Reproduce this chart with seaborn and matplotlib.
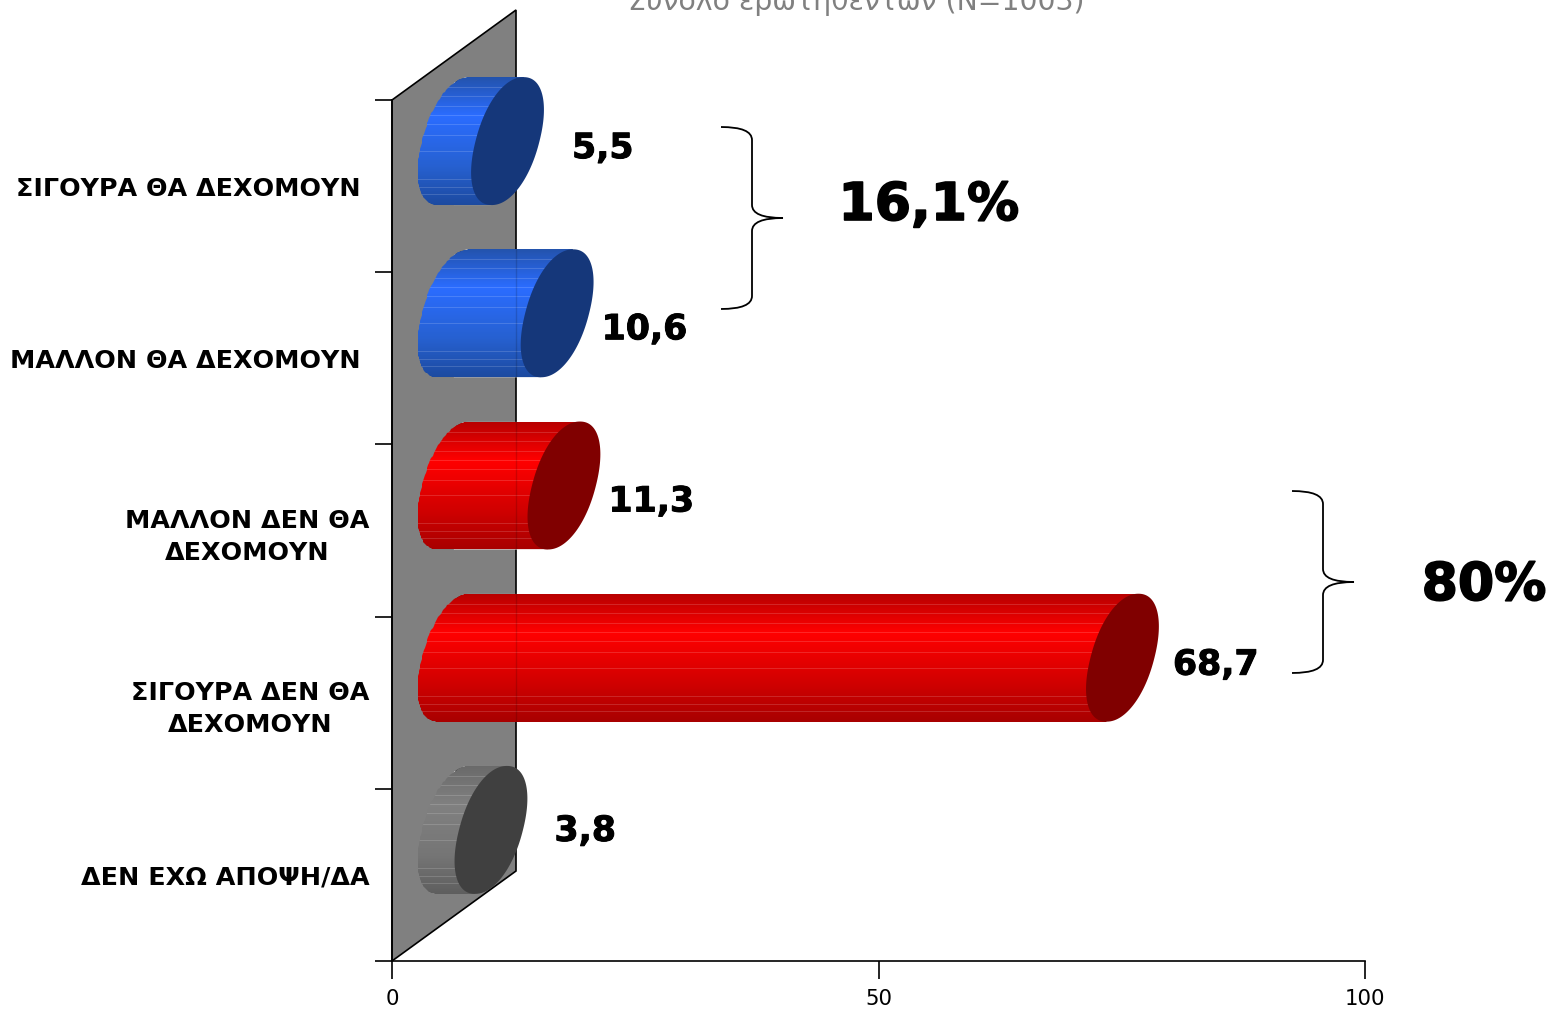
import numpy as np
import matplotlib
matplotlib.use('Agg')
import matplotlib.pyplot as plt
import matplotlib.patheffects as pe
import seaborn as sns
from matplotlib.colors import LinearSegmentedColormap, to_rgb
from matplotlib.patches import PathPatch, Polygon
from matplotlib.path import Path
from matplotlib.transforms import Affine2D, IdentityTransform

categories = ["ΣΙΓΟΥΡΑ ΘΑ ΔΕΧΟΜΟΥΝ ", "ΜΑΛΛΟΝ ΘΑ ΔΕΧΟΜΟΥΝ ", "ΜΑΛΛΟΝ ΔΕΝ ΘΑ\nΔΕΧΟΜΟΥΝ",
              "ΣΙΓΟΥΡΑ ΔΕΝ ΘΑ\nΔΕΧΟΜΟΥΝ", "ΔΕΝ ΕΧΩ ΑΠΟΨΗ/ΔΑ"]
values = [5.5, 10.6, 11.3, 68.7, 3.8]
value_labels = ["5,5", "10,6", "11,3", "68,7", "3,8"]
x_ticks = [0, 50, 100]
title = "Σύνολο ερωτηθέντων (N=1003)"
group_labels = ["16,1%", "80%"]

# (body gradient stops top to bottom, end cap colour)
blue = (["#2353ad", "#2a6cff", "#2660d0", "#1c4aa0"], "#15377a")
red = (["#b80000", "#ff0000", "#d00000", "#a80000"], "#800000")
grey = (["#6a6a6a", "#808080", "#757575", "#5e5e5e"], "#404040")
bar_styles = [blue, blue, red, red, grey]

# layout, in pixels of the picture
label_nudge = [(28, 7), (8, 16), (8, 16), (14, 7), (27, 1)]
depth = (124, 90)
cap_a, cap_skew, cap_round = 32, 16, 0.93
stripes = [0.08, 0.15, 0.23, 0.3, 0.37, 0.46, 0.58, 0.8, 0.86, 0.92]

W, H = 1551, 1009
sns.set_theme(style='white')
plt.rcParams['font.family'] = ['DejaVu Sans']

fig = plt.figure(figsize=(W / 100, H / 100), dpi=100)
ax = fig.add_axes([392 / W, (H - 961) / H, 973 / W, 861 / H])
ax.patch.set_visible(False)

# picture pixels, y going down
img_px = Affine2D().scale(1, -1).translate(0, H)
heavy = [pe.withStroke(linewidth=0.7, foreground='black')]


def rounded(t):
    # slightly squarer ellipse, the caps in the chart are not true ellipses
    c, s = np.cos(t), np.sin(t)
    return np.sign(c) * np.abs(c) ** cap_round, np.sign(s) * np.abs(s) ** cap_round


sns.barplot(y=categories, x=values, hue=categories, legend=False, saturation=1,
            palette=[s[1] for s in bar_styles], width=0.743, ax=ax, zorder=3)
ax.set_xlim(0, 100)
ax.set_ylim(4.5, -0.5)

sns.despine(ax=ax)
for side in ['left', 'bottom']:
    ax.spines[side].set_color('black')
    ax.spines[side].set_linewidth(1.2)
ax.set_xticks(x_ticks)
ax.set_yticks(np.arange(len(categories)))
ax.set_yticklabels(categories, fontsize=18.3, fontweight='bold', ma='center', color='black',
                   linespacing=1.41)
ax.set_yticks(np.arange(len(categories) + 1) - 0.5, minor=True)
ax.tick_params(axis='y', which='major', length=0, pad=16)
ax.tick_params(axis='y', which='minor', left=True, length=12, width=1.2, color='black')
ax.tick_params(axis='x', bottom=True, length=13, width=1.2, color='black', pad=7,
               labelsize=15.3, labelcolor='black')
ax.set_xlabel('')
ax.set_ylabel('')

# back wall
p0 = ax.transData.transform((0, -0.5))
p1 = ax.transData.transform((0, 4.5))
wall_pts = [p0, p0 + depth, p1 + depth, p1]
ax.add_patch(Polygon(wall_pts, closed=True, facecolor='#808080', edgecolor='black', linewidth=1.2,
                     transform=IdentityTransform(), clip_on=False, zorder=1))

half_depth = Affine2D().translate(depth[0] / 2, depth[1] / 2)
bars = list(ax.patches)[:len(values)]
for i, (bar, v, style) in enumerate(zip(bars, values, bar_styles)):
    stops, cap = style
    x0, cy = half_depth.transform(ax.transData.transform((0, i)))
    x1 = half_depth.transform(ax.transData.transform((v, i)))[0]
    top = half_depth.transform(ax.transData.transform((0, bar.get_y())))[1]
    b = top - cy

    # outline of the body: left half of the rear ellipse plus the slanted sides
    t = np.linspace(np.pi / 2, 3 * np.pi / 2, 80)
    ux, uy = rounded(t)
    outline = np.column_stack([x0 + cap_a * ux + cap_skew * uy, cy + b * uy])
    outline = np.vstack([outline, [x1 - cap_skew, cy - b], [x1 + cap_skew, cy + b], outline[:1]])
    body = Path(outline, closed=True)

    bar.set_transform(ax.transData + half_depth)
    bar.set_clip_box(fig.bbox)
    bar.set_clip_path(body, IdentityTransform())

    # shaded body, one row per pixel
    rows = int(round(2 * b))
    cmap = LinearSegmentedColormap.from_list('body', list(zip([0, 0.3, 0.7, 1], stops)))
    colours = cmap(np.linspace(0, 1, rows))[:, :3]
    for s in stripes:
        r = int(s * rows)
        colours[r] = colours[r] * 0.85 + 0.15 * np.array(to_rgb('white'))
    yy = np.linspace(bar.get_y(), bar.get_y() + bar.get_height(), rows + 1)
    mesh = ax.pcolormesh([-6, v + 6], yy, colours[:, None, :], transform=ax.transData + half_depth,
                         zorder=3.2, antialiased=False)
    mesh.set_clip_box(fig.bbox)
    mesh.set_clip_path(body, IdentityTransform())

    # wall edge faintly showing through the body
    ln, = ax.plot([p0[0] + depth[0]] * 2, [cy - b, cy + b], color='black', alpha=0.15, lw=1,
                  transform=IdentityTransform(), zorder=3.4)
    ln.set_clip_box(fig.bbox)
    ln.set_clip_path(body, IdentityTransform())

    # end cap
    t = np.linspace(0, 2 * np.pi, 160)
    ux, uy = rounded(t)
    ax.add_patch(Polygon(np.column_stack([x1 + cap_a * ux + cap_skew * uy, cy + b * uy]),
                         closed=True, facecolor=cap, edgecolor='none',
                         transform=IdentityTransform(), clip_on=False, zorder=3.6))

    # value label
    dx, dy = label_nudge[i]
    ax.text(x1 + 36.5 + dx, cy - dy, value_labels[i], fontsize=25,
            fontweight='bold', color='black', ha='left', va='center', path_effects=heavy,
            transform=IdentityTransform(), clip_on=False, zorder=4)


def brace(x, y, height, width=31):
    # curly brace opening left, tip on the right
    m = y + height / 2
    verts = [(x, y), (x + width, y), (x + width, y + 13),
             (x + width, m - 13), (x + width, m), (x + 2 * width, m),
             (x + width, m), (x + width, m + 13),
             (x + width, y + height - 13), (x + width, y + height), (x, y + height)]
    codes = [Path.MOVETO, Path.CURVE3, Path.CURVE3, Path.LINETO, Path.CURVE3, Path.CURVE3,
             Path.CURVE3, Path.CURVE3, Path.LINETO, Path.CURVE3, Path.CURVE3]
    fig.add_artist(PathPatch(Path(verts, codes), facecolor='none', edgecolor='black', lw=1.3,
                             transform=img_px))


brace(721, 127, 182)
brace(1292, 491, 182)

big = [pe.withStroke(linewidth=1.2, foreground='black')]
fig.text(929, 206, group_labels[0], fontsize=37.5, fontweight='bold', color='black',
         ha='center', va='center', path_effects=big, transform=img_px)
fig.text(1484, 586, group_labels[1], fontsize=37.5, fontweight='bold', color='black',
         ha='center', va='center', path_effects=big, transform=img_px)
fig.text(856, 9.5, title, fontsize=20.4, color='#808080', ha='center', va='baseline',
         transform=img_px)

fig.savefig('out.png', dpi=100)
plt.close(fig)
